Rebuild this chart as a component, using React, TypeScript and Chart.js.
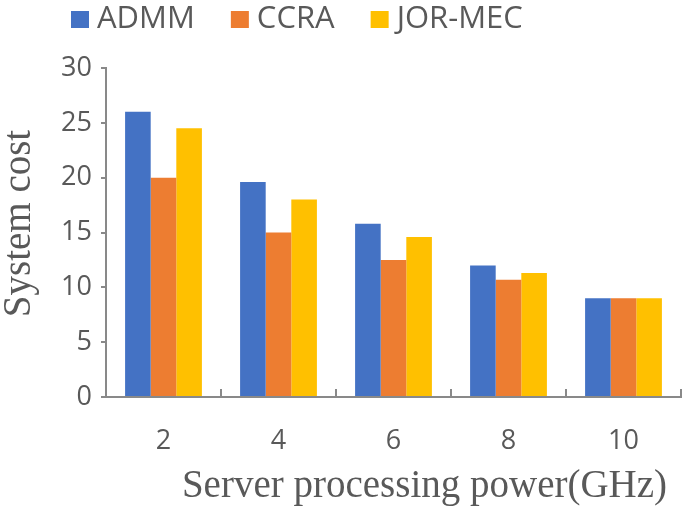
import React, { useEffect, useRef } from 'react';
import { Chart, registerables } from 'chart.js';

Chart.register(...registerables);

const categories = ['2', '4', '6', '8', '10'];
const admm = [26, 19.6, 15.8, 12, 9];
const ccra = [20, 15, 12.5, 10.7, 9];
const jorMec = [24.5, 18, 14.6, 11.3, 9];
const seriesNames = ['ADMM', 'CCRA', 'JOR-MEC'];
const yTicks = [0, 5, 10, 15, 20, 25, 30];
const xTitle = 'Server processing power(GHz)';
const yTitle = 'System cost';

const COLORS = ['#4472C4', '#ED7D31', '#FFC000'];
const TEXT = '#595959';
const AXIS = '#898989';
const SANS = '"Open Sans", "Liberation Sans", sans-serif';
const SERIF = '"Liberation Serif", "Times New Roman", serif';

const decor = {
  id: 'decor',
  afterDraw(chart: any) {
    const ctx = chart.ctx as CanvasRenderingContext2D;
    const area = chart.chartArea;
    ctx.save();
    // legend
    ctx.font = `31px ${SANS}`;
    ctx.textBaseline = 'middle';
    ctx.textAlign = 'left';
    let x = 71;
    chart.data.datasets.forEach((ds: any) => {
      ctx.fillStyle = ds.backgroundColor;
      ctx.fillRect(x, 11, 18, 17);
      ctx.fillStyle = TEXT;
      ctx.fillText(ds.label, x + 26, 19);
      x += 26 + ctx.measureText(ds.label).width + 36;
    });
    // x title
    ctx.font = `39px ${SERIF}`;
    ctx.textAlign = 'center';
    ctx.fillStyle = TEXT;
    ctx.fillText(xTitle, (area.left + area.right) / 2 + 31, 487);
    // y title
    ctx.translate(20, (area.top + area.bottom) / 2 - 9);
    ctx.rotate(-Math.PI / 2);
    ctx.fillText(yTitle, 0, 0);
    ctx.restore();
  },
};

export default function App() {
  const ref = useRef<HTMLCanvasElement | null>(null);
  useEffect(() => {
    if (!ref.current) return;
    const series = [admm, ccra, jorMec];
    const chart = new Chart(ref.current, {
      type: 'bar',
      data: {
        labels: categories,
        datasets: series.map((d, i) => ({
          label: seriesNames[i],
          data: d,
          backgroundColor: COLORS[i],
          borderWidth: 0,
          categoryPercentage: 0.668,
          barPercentage: 1.0,
        })),
      },
      options: {
        responsive: false,
        animation: false,
        layout: { padding: { top: 68, right: 4, left: 0, bottom: 0 } },
        plugins: {
          legend: { display: false },
          tooltip: { enabled: false },
        },
        scales: {
          x: {
            offset: true,
            grid: {
              offset: true,
              drawOnChartArea: false,
              drawTicks: true,
              tickLength: -8,
              color: AXIS,
              lineWidth: 2,
            },
            border: { display: true, color: AXIS, width: 2 },
            ticks: {
              color: TEXT,
              font: { family: SANS, size: 27 },
              padding: 36,
              maxRotation: 0,
            },
            afterFit: (s: any) => {
              s.height = 111;
            },
          },
          y: {
            min: 0,
            max: 30,
            afterBuildTicks: (s: any) => {
              s.ticks = yTicks.map((v) => ({ value: v }));
            },
            grid: {
              drawOnChartArea: false,
              drawTicks: true,
              tickLength: 5,
              color: AXIS,
              lineWidth: 2,
            },
            border: { display: true, color: AXIS, width: 2 },
            ticks: {
              color: TEXT,
              font: { family: SANS, size: 27 },
              padding: 9,
            },
            afterFit: (s: any) => {
              s.width = 106;
            },
          },
        },
      },
      plugins: [decor],
    });
    return () => chart.destroy();
  }, []);
  return (
    <div style={{ position: 'fixed', left: 0, top: 0, width: 685, height: 508, background: '#fff' }}>
      <canvas ref={ref} width={685} height={508} style={{ display: 'block' }} />
    </div>
  );
}
